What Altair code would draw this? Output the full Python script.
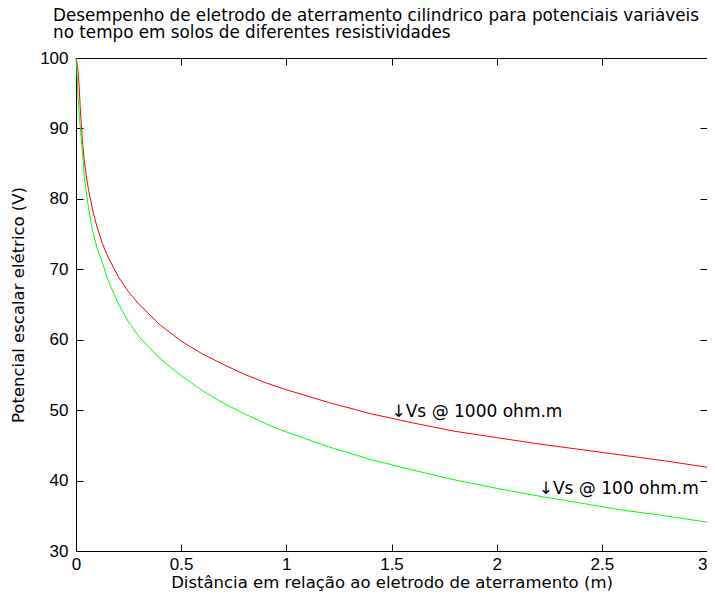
import altair as alt
import pandas as pd

# Shared x sample positions (m)
x_pts = [0.0, 0.005, 0.01, 0.015, 0.02, 0.03, 0.04, 0.05, 0.06, 0.08, 0.1,
         0.125, 0.15, 0.2, 0.25, 0.3, 0.4, 0.5, 0.6, 0.7, 0.8, 0.9, 1.0,
         1.2, 1.4, 1.6, 1.8, 2.0, 2.2, 2.4, 2.6, 2.8, 3.0]

# Red curve: Vs @ 1000 ohm.m
y_red = [100.0, 99.3, 98.0, 96.0, 93.0, 88.4, 85.3, 83.0, 81.2, 78.3, 76.0,
         73.7, 71.9, 69.0, 66.8, 65.0, 62.1, 59.8, 58.0, 56.5, 55.1, 53.9, 52.9,
         51.1, 49.5, 48.2, 47.0, 46.1, 45.2, 44.4, 43.6, 42.8, 41.9]

# Green curve: Vs @ 100 ohm.m
y_green = [100.0, 97.5, 94.3, 92.2, 90.3, 87.0, 83.0, 80.7, 78.6, 75.3, 73.0,
           71.0, 68.6, 65.2, 62.5, 60.4, 57.3, 54.9, 52.8, 51.0, 49.5, 48.1, 46.9,
           44.8, 43.0, 41.5, 40.1, 38.9, 37.8, 36.8, 35.8, 35.0, 34.1]

# Annotations
ann_x = [1.5, 2.2]
ann_y = [49.8, 38.8]
ann_text = ["\u2193Vs @ 1000 ohm.m", "\u2193Vs @ 100 ohm.m"]

x_ticks = [0, 0.5, 1, 1.5, 2, 2.5, 3]
y_ticks = [30, 40, 50, 60, 70, 80, 90, 100]

title_lines = [
    "Desempenho de eletrodo de aterramento cilíndrico para potenciais variáveis",
    "\u00a0no tempo em solos de diferentes resistividades",
]
x_title = "Distância em relação ao eletrodo de aterramento (m)"
y_title = "Potencial escalar elétrico (V)"

NUM_FONT = "Liberation Sans"
TXT_FONT = "DejaVu Sans"

df_red = pd.DataFrame({"x": x_pts, "y": y_red})
df_green = pd.DataFrame({"x": x_pts, "y": y_green})
df_ann = pd.DataFrame({"x": ann_x, "y": ann_y, "t": ann_text})

xs = alt.Scale(domain=[0, 3], nice=False, zero=False)
ys = alt.Scale(domain=[30, 100], nice=False, zero=False)
LBL = "'' + datum.value"

red = alt.Chart(df_red).mark_line(color="#ff0000", strokeWidth=1).encode(
    x=alt.X("x:Q", scale=xs, axis=alt.Axis(
        orient="bottom", values=x_ticks, labelExpr=LBL, title=x_title,
        tickSize=7, offset=-7, domain=False, labelPadding=5, titlePadding=2,
        labelAlign=alt.condition("datum.value >= 3", alt.value("right"), alt.value("center")),
        labelFlush=False, labelOverlap=False, grid=False)),
    y=alt.Y("y:Q", scale=ys, axis=alt.Axis(
        orient="left", values=y_ticks, labelExpr=LBL, title=y_title,
        tickSize=7, offset=-7, domain=False, labelPadding=8, titlePadding=13,
        labelFlush=False, labelOverlap=False, grid=False)),
)

green = alt.Chart(df_green).mark_line(color="#00ff00", strokeWidth=1).encode(
    x=alt.X("x:Q", scale=xs, axis=alt.Axis(
        orient="top", values=x_ticks, labels=False, title=None,
        tickSize=7, offset=-7, domain=False, grid=False)),
    y=alt.Y("y:Q", scale=ys, axis=alt.Axis(
        orient="right", values=y_ticks, labels=False, title=None,
        tickSize=7, offset=-7, domain=False, grid=False)),
)

ann = alt.Chart(df_ann).mark_text(
    align="left", baseline="middle", font=TXT_FONT, fontSize=17, color="black"
).encode(
    x=alt.X("x:Q", scale=xs, axis=None),
    y=alt.Y("y:Q", scale=ys, axis=None),
    text="t:N",
)

chart = alt.layer(red, green, ann).resolve_axis(
    x="independent", y="independent"
).properties(
    width=631,
    height=493,
    padding={"left": 68, "top": 50, "right": 0, "bottom": 40},
    autosize="none",
    title=alt.TitleParams(
        text=title_lines, anchor="start", frame="group", dx=-23, offset=7,
        font=TXT_FONT, fontSize=16.8, fontWeight="normal", color="black",
        lineHeight=17,
    ),
    background="white",
).configure_view(
    stroke="black", strokeWidth=1
).configure_axis(
    labelFont=NUM_FONT, titleFont=TXT_FONT, labelFontSize=17, titleFontSize=16.5,
    titleFontWeight="normal", labelColor="black", titleColor="black",
    tickColor="black", tickWidth=1,
)

chart.save("out.html", embed_options={"renderer": "svg", "actions": False})
